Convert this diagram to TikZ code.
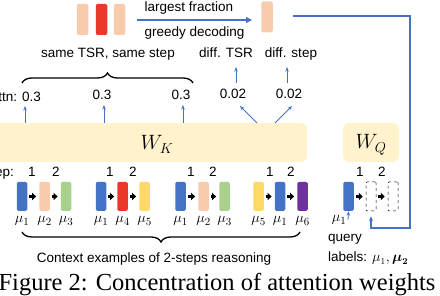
\documentclass[tikz,border=0pt]{standalone}
\usepackage{amsmath}
\usepackage{fontspec}
\setmainfont{Liberation Serif}
\newfontfamily\lsans{Liberation Sans}
\usetikzlibrary{arrows.meta,decorations.pathreplacing,calc}
\definecolor{cblue}{HTML}{4472C4}
\definecolor{cpeach}{HTML}{F8CBAD}
\definecolor{cred}{HTML}{E8392A}
\definecolor{cgreen}{HTML}{A9D18E}
\definecolor{cyellow}{HTML}{FFD966}
\definecolor{cpurple}{HTML}{7030A0}
\definecolor{cbox}{HTML}{FFF2CC}
\tikzset{
  bar/.style={rounded corners=1.5pt, draw=none, inner sep=0pt, minimum width=10.5pt, minimum height=29pt},
  tbar/.style={rounded corners=2pt, draw=none, inner sep=0pt, minimum width=11.5pt, minimum height=31pt},
  dbar/.style={rounded corners=1pt, draw=black, dashed, line width=0.5pt, inner sep=0pt, minimum width=10pt, minimum height=29pt},
  txt/.style={font=\lsans\fontsize{13.5}{16}\selectfont, inner sep=0pt, anchor=base},
  mlab/.style={font=\fontsize{15.5}{18}\selectfont, inner sep=0pt, anchor=base},
  blk/.style={-{Triangle[length=4pt,width=7.5pt]}, line width=3pt, black, shorten <=2pt, shorten >=3pt},
  barr/.style={cblue, line width=0.8pt, -{Stealth[length=4.5pt,width=3.5pt]}},
  wbox/.style={fill=cbox, rounded corners=6pt, draw=none, inner sep=0pt},
  brc/.style={decorate, decoration={brace, amplitude=10pt}, line width=1.3pt},
}
\begin{document}
\begin{tikzpicture}[x=1pt,y=-1pt]
\useasboundingbox (0,0) rectangle (440,296);
% top bars
\node[tbar, fill=cpeach] (t1) at (82.5,19.5) {};
\node[tbar, fill=cred] (t2) at (101.5,19.5) {};
\node[tbar, fill=cpeach] (t3) at (119.5,19.5) {};
\node[tbar, fill=cpeach] (t4) at (267,17) {};
\coordinate (fa) at (137,20);
\coordinate (fb) at (252,20);
\draw[cblue, line width=2pt, -{Triangle[length=6pt,width=6pt]}] (fa) -- (fb);
\node[txt] (lf) at (189,12) {largest fraction};
\node[txt] (gd) at (194.5,37) {greedy decoding};
% labels
\node[txt] (same) at (108,58) {same TSR, same step};
\node[txt] (dtsr) at (226,58) {diff. TSR};
\node[txt] (dstep) at (291,58) {diff. step};
\draw[brc] (22,83) -- (193,83);
% attention values
\node[txt, anchor=base east] (a1) at (41,102) {Attn: 0.3};
\node[txt] (a2) at (102,100) {0.3};
\node[txt] (a3) at (181,100) {0.3};
\node[txt] (a4) at (233,99) {0.02};
\node[txt] (a5) at (289,99) {0.02};
\coordinate (u1) at (236,83); \coordinate (v1) at (236,67);
\coordinate (u2) at (287,83); \coordinate (v2) at (287,67);
\draw[barr] (u1) -- (v1);
\draw[barr] (u2) -- (v2);
% W boxes
\node[wbox, minimum width=320pt, minimum height=39pt] (wk) at (147,142.5) {};
\node[font=\fontsize{21}{24}\selectfont, inner sep=0pt, anchor=base] (wkl) at (157,150) {$W_K$};
\node[wbox, minimum width=56pt, minimum height=39pt] (wq) at (371,142.5) {};
\node[font=\fontsize{21}{24}\selectfont, inner sep=0pt, anchor=base] (wql) at (371,149) {$W_Q$};
% arrows from W_K
\coordinate (k1) at (25,123); \coordinate (e1) at (25,106);
\coordinate (k2) at (104,123); \coordinate (e2) at (104,105);
\coordinate (k3) at (183,123); \coordinate (e3) at (183,105);
\coordinate (k4) at (257,123); \coordinate (e4) at (240,106);
\coordinate (k5) at (275,123); \coordinate (e5) at (292,106);
\foreach \i in {1,...,5} {\draw[barr] (k\i) -- (e\i);}
% step labels
\node[txt, anchor=base east] (stp) at (14,177) {Step:};
\foreach \n/\x/\t in {s11/32/1,s12/56/2,s21/110/1,s22/133/2,s31/191/1,s32/213/2,s41/270/1,s42/291/2,s51/360/1,s52/382/2}
  {\node[txt] (\n) at (\x,177) {\t};}
% bars
\node[bar, fill=cblue] (b11) at (22,196.5) {};
\node[bar, fill=cpeach] (b12) at (44.5,196.5) {};
\node[bar, fill=cgreen] (b13) at (66,196.5) {};
\node[bar, fill=cblue] (b21) at (101,196.5) {};
\node[bar, fill=cred] (b22) at (122.5,196.5) {};
\node[bar, fill=cyellow] (b23) at (144.5,196.5) {};
\node[bar, fill=cblue] (b31) at (180.5,196.5) {};
\node[bar, fill=cpeach] (b32) at (203.5,196.5) {};
\node[bar, fill=cgreen] (b33) at (224.5,196.5) {};
\node[bar, fill=cyellow] (b41) at (258.5,196.5) {};
\node[bar, fill=cblue] (b42) at (280,196.5) {};
\node[bar, fill=cpurple] (b43) at (302.5,196.5) {};
\node[bar, fill=cblue] (q1) at (348.5,196.5) {};
\node[dbar] (d1) at (371,196.5) {};
\node[dbar] (d2) at (393,196.5) {};
\foreach \g in {1,2,3,4} {
  \draw[blk] (b\g1.east) -- (b\g2.west);
  \draw[blk] (b\g2.east) -- (b\g3.west);
}
\draw[blk] (q1.east) -- (d1.west);
\draw[blk] (d1.east) -- (d2.west);
% mu labels
\foreach \n/\x/\k in {m11/22/1,m12/44.5/2,m13/66/3,m21/101/1,m22/122.5/4,m23/144.5/5,m31/180.5/1,m32/203.5/2,m33/224.5/3,m41/258.5/5,m42/280/1,m43/302.5/6}
  {\node[mlab] (\n) at (\x,223) {$\mu_\k$};}
\node[mlab] (qm) at (339,222) {$\mu_1$};
\coordinate (qa) at (348,220);
\draw[barr] (qa) -- (q1.south);
% feedback connector
\coordinate (fs) at (293,16);
\coordinate (fc) at (410,228);
\draw[cblue, line width=1.1pt, -{Stealth[length=5pt,width=4pt]}, shorten >=5pt] (fs) -| (fc) -| (d1.south);
% bottom brace and text
\draw[brc] (300,232) -- (22,232);
\node[txt] (ctx) at (154,263) {Context examples of 2-steps reasoning};
\node[txt, anchor=base west] (qry) at (328,242) {query};
\node[txt, anchor=base west] (lbl) at (328,262) {labels: $\mu_1, \boldsymbol{\mu_2}$};
% caption
\node[font=\fontsize{24.5}{28}\selectfont, inner sep=0pt, anchor=base] (cap) at (217,291) {Figure 2: Concentration of attention weights};
\end{tikzpicture}
\end{document}
